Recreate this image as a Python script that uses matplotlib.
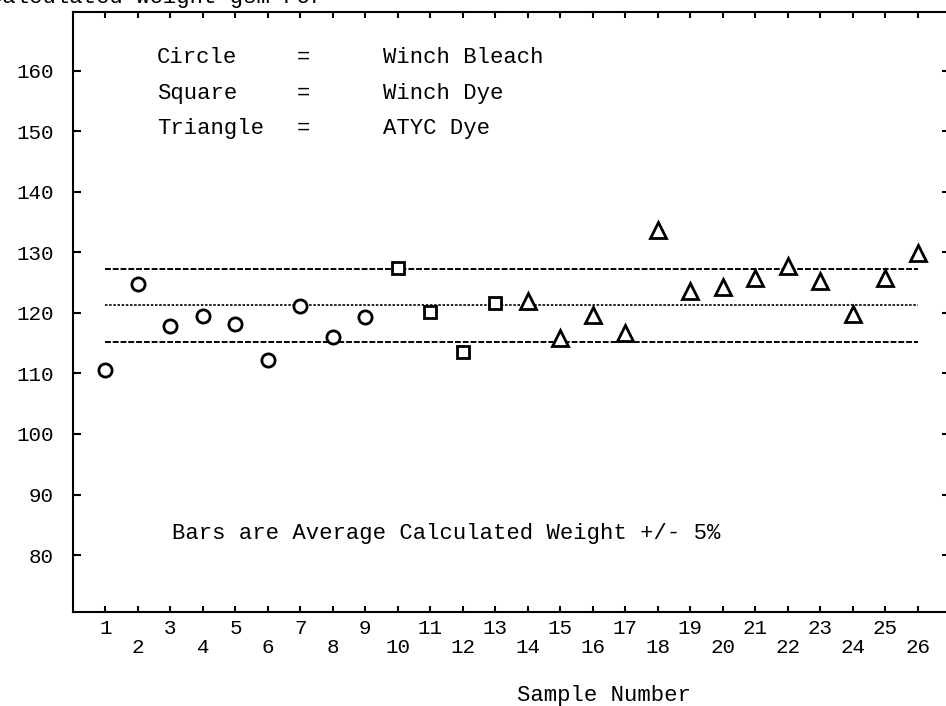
import matplotlib
matplotlib.use('Agg')
import matplotlib.pyplot as plt
import numpy as np

# sample numbers and calculated weights
circle_x = [1, 2, 3, 4, 5, 6, 7, 8, 9]
circle_y = [110.6, 124.8, 117.8, 119.5, 118.2, 112.3, 121.1, 116.1, 119.3]
square_x = [10, 11, 12, 13]
square_y = [127.4, 120.1, 113.5, 121.6]
triangle_x = [14, 15, 16, 17, 18, 19, 20, 21, 22, 23, 24, 25, 26]
triangle_y = [121.9, 115.8, 119.6, 116.7, 133.7, 123.7, 124.2, 125.8, 127.7,
              125.2, 119.9, 125.7, 129.9]

legend_shapes = ['Circle', 'Square', 'Triangle']
legend_names = ['Winch Bleach', 'Winch Dye', 'ATYC Dye']
y_ticks = [80, 90, 100, 110, 120, 130, 140, 150, 160]
x_ticks = list(range(1, 27))

all_y = circle_y + square_y + triangle_y
mean_w = np.mean(all_y)

plt.rcParams['font.family'] = ['Liberation Mono', 'DejaVu Sans Mono']

fig = plt.figure(figsize=(9.46, 7.06), dpi=100)
W, H = 946, 706
ax = fig.add_axes([73 / W, (H - 612) / H, (950 - 73) / W, (612 - 12) / H])

mk = dict(linestyle='none', markerfacecolor='white', markeredgecolor='black',
          markeredgewidth=2.0, zorder=3)
ax.plot(circle_x, circle_y, marker='o', markersize=9.5, **mk)
ax.plot(square_x, square_y, marker='s', markersize=8.5, **mk)
ax.plot(triangle_x, triangle_y, marker='^', markersize=11, **mk)

# bars: average and +/- 5%
ax.plot([1, 26], [mean_w * 1.05] * 2, color='black', lw=1.4, ls=(0, (3, 1)))
ax.plot([1, 26], [mean_w] * 2, color='black', lw=1.2, ls=(0, (1.5, 1)))
ax.plot([1, 26], [mean_w * 0.95] * 2, color='black', lw=1.4, ls=(0, (3, 1)))

ax.set_xlim(0, 27)
ax.set_ylim(70.6, 169.7)

ax.set_yticks(y_ticks)
ax.set_yticklabels([str(v) for v in y_ticks])
ax.set_xticks(x_ticks)
ax.set_xticklabels([str(k) if k % 2 else '\n' + str(k) for k in x_ticks])
ax.tick_params(axis='y', direction='in', length=6, width=1.5, pad=14,
               labelsize=15, right=True)
ax.tick_params(axis='x', direction='in', length=4, width=1.5, pad=5,
               labelsize=15, top=True)
for lab in ax.get_xticklabels():
    lab.set_linespacing(1.0)

for s in ax.spines.values():
    s.set_linewidth(1.5)

# key text
rows_y = [162.2, 156.3, 150.5]
for shp, nm, yy in zip(legend_shapes, legend_names, rows_y):
    ax.text(2.59, yy, shp, fontsize=16, va='center', ha='left')
    ax.text(6.9, yy, '=', fontsize=16, va='center', ha='left')
    ax.text(9.54, yy, nm, fontsize=16, va='center', ha='left')

ax.text(3.05, 83.6, 'Bars are Average Calculated Weight +/- 5%',
        fontsize=16, va='center', ha='left')

fig.text(604 / W, 1 - 695 / H, 'Sample Number', fontsize=16,
         ha='center', va='center')
fig.text(-0.012, 1.004, 'Calculated Weight gsm For', fontsize=16,
         ha='left', va='center')

fig.savefig('out.png', dpi=100)
